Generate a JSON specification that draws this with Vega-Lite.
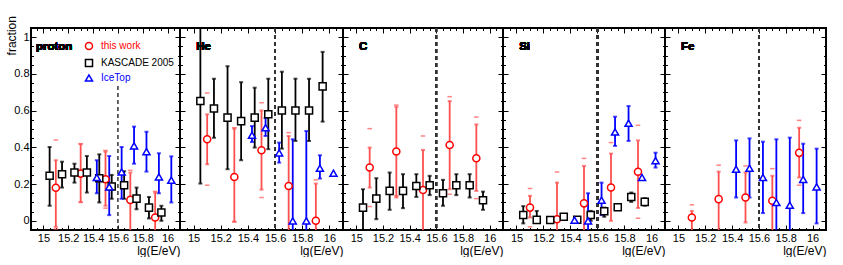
{
"$schema": "https://vega.github.io/schema/vega-lite/v6.json",
"padding": {"left": 5, "top": 15, "right": 0, "bottom": 0},
"bounds": "flush",
"config": {
 "font": "Liberation Sans",
 "view": {"stroke": "black", "strokeWidth": 2},
 "axis": {"domain": false, "grid": false, "tickColor": "black", "tickWidth": 1, "labelFont": "Liberation Sans", "labelFontSize": 11, "labelColor": "black", "titleFont": "Liberation Sans", "titleFontSize": 12, "titleFontWeight": "normal", "titleColor": "black", "labelOverlap": false, "labelFlush": false, "labelBound": false}
},
"data": {"values": [
{"el":"p","src":"this work","x":15.1,"y":0.18,"lo":-0.033,"hi":0.33,"slo":-0.045,"shi":0.44},
{"el":"p","src":"this work","x":15.3,"y":0.257,"lo":0.103,"hi":0.417,"slo":0.1,"shi":0.42},
{"el":"p","src":"this work","x":15.5,"y":0.226,"lo":0.082,"hi":0.377,"slo":0.069,"shi":0.383},
{"el":"p","src":"this work","x":15.7,"y":0.114,"lo":-0.1,"hi":0.263,"slo":-0.1,"shi":0.275},
{"el":"p","src":"this work","x":15.9,"y":0.018,"lo":-0.1,"hi":0.154,"slo":-0.1,"shi":0.16},
{"el":"p","src":"KASCADE 2005","x":15.05,"y":0.245,"lo":0.082,"hi":0.402},
{"el":"p","src":"KASCADE 2005","x":15.15,"y":0.254,"lo":0.181,"hi":0.322},
{"el":"p","src":"KASCADE 2005","x":15.25,"y":0.263,"lo":0.208,"hi":0.311},
{"el":"p","src":"KASCADE 2005","x":15.35,"y":0.263,"lo":0.154,"hi":0.353},
{"el":"p","src":"KASCADE 2005","x":15.45,"y":0.232,"lo":0.1,"hi":0.362},
{"el":"p","src":"KASCADE 2005","x":15.55,"y":0.187,"lo":0.12,"hi":0.25},
{"el":"p","src":"KASCADE 2005","x":15.65,"y":0.194,"lo":0.12,"hi":0.27},
{"el":"p","src":"KASCADE 2005","x":15.75,"y":0.121,"lo":0.063,"hi":0.181},
{"el":"p","src":"KASCADE 2005","x":15.85,"y":0.072,"lo":0.013,"hi":0.13},
{"el":"p","src":"KASCADE 2005","x":15.95,"y":0.045,"lo":0.0,"hi":0.082},
{"el":"p","src":"IceTop","x":15.43,"y":0.236,"lo":0.15,"hi":0.33},
{"el":"p","src":"IceTop","x":15.53,"y":0.185,"lo":0.031,"hi":0.353},
{"el":"p","src":"IceTop","x":15.63,"y":0.266,"lo":0.12,"hi":0.402},
{"el":"p","src":"IceTop","x":15.73,"y":0.408,"lo":0.311,"hi":0.513},
{"el":"p","src":"IceTop","x":15.83,"y":0.377,"lo":0.268,"hi":0.485},
{"el":"p","src":"IceTop","x":15.93,"y":0.239,"lo":0.15,"hi":0.368},
{"el":"p","src":"IceTop","x":16.03,"y":0.221,"lo":0.1,"hi":0.351},
{"el":"He","src":"this work","x":15.1,"y":0.444,"lo":0.308,"hi":0.58,"slo":0.194,"shi":0.696},
{"el":"He","src":"this work","x":15.3,"y":0.239,"lo":-0.005,"hi":0.502,"slo":-0.005,"shi":0.507},
{"el":"He","src":"this work","x":15.5,"y":0.384,"lo":0.17,"hi":0.601,"slo":0.127,"shi":0.643},
{"el":"He","src":"this work","x":15.7,"y":0.19,"lo":-0.1,"hi":0.462,"slo":-0.1,"shi":0.48},
{"el":"He","src":"this work","x":15.9,"y":0.0,"lo":-0.1,"hi":0.203,"slo":-0.1,"shi":0.223},
{"el":"He","src":"KASCADE 2005","x":15.05,"y":0.652,"lo":0.203,"hi":1.1},
{"el":"He","src":"KASCADE 2005","x":15.15,"y":0.612,"lo":0.453,"hi":0.774},
{"el":"He","src":"KASCADE 2005","x":15.25,"y":0.562,"lo":0.281,"hi":0.842},
{"el":"He","src":"KASCADE 2005","x":15.35,"y":0.543,"lo":0.33,"hi":0.755},
{"el":"He","src":"KASCADE 2005","x":15.45,"y":0.562,"lo":0.399,"hi":0.725},
{"el":"He","src":"KASCADE 2005","x":15.55,"y":0.58,"lo":0.39,"hi":0.774},
{"el":"He","src":"KASCADE 2005","x":15.65,"y":0.601,"lo":0.393,"hi":0.812},
{"el":"He","src":"KASCADE 2005","x":15.75,"y":0.601,"lo":0.435,"hi":0.774},
{"el":"He","src":"KASCADE 2005","x":15.85,"y":0.601,"lo":0.435,"hi":0.774},
{"el":"He","src":"KASCADE 2005","x":15.95,"y":0.732,"lo":0.54,"hi":0.92},
{"el":"He","src":"IceTop","x":15.43,"y":0.466,"lo":0.429,"hi":0.516},
{"el":"He","src":"IceTop","x":15.53,"y":0.507,"lo":0.462,"hi":0.56},
{"el":"He","src":"IceTop","x":15.63,"y":0.37,"lo":0.317,"hi":0.426},
{"el":"He","src":"IceTop","x":15.73,"y":0.0,"lo":-0.1,"hi":0.444},
{"el":"He","src":"IceTop","x":15.83,"y":0.0,"lo":-0.1,"hi":0.489},
{"el":"He","src":"IceTop","x":15.93,"y":0.286,"lo":0.23,"hi":0.357},
{"el":"He","src":"IceTop","x":16.03,"y":0.259},
{"el":"C","src":"this work","x":15.1,"y":0.29,"lo":0.181,"hi":0.399,"slo":0.078,"shi":0.502},
{"el":"C","src":"this work","x":15.3,"y":0.377,"lo":0.127,"hi":0.621,"slo":0.136,"shi":0.63},
{"el":"C","src":"this work","x":15.5,"y":0.168,"lo":-0.1,"hi":0.386,"slo":-0.1,"shi":0.462},
{"el":"C","src":"this work","x":15.7,"y":0.413,"lo":0.172,"hi":0.652,"slo":0.145,"shi":0.676},
{"el":"C","src":"this work","x":15.9,"y":0.341,"lo":0.163,"hi":0.525,"slo":0.121,"shi":0.565},
{"el":"C","src":"KASCADE 2005","x":15.05,"y":0.072,"lo":-0.1,"hi":0.172},
{"el":"C","src":"KASCADE 2005","x":15.15,"y":0.121,"lo":0.009,"hi":0.232},
{"el":"C","src":"KASCADE 2005","x":15.25,"y":0.163,"lo":0.06,"hi":0.263},
{"el":"C","src":"KASCADE 2005","x":15.35,"y":0.163,"lo":0.069,"hi":0.254},
{"el":"C","src":"KASCADE 2005","x":15.45,"y":0.19,"lo":0.13,"hi":0.254},
{"el":"C","src":"KASCADE 2005","x":15.55,"y":0.194,"lo":0.14,"hi":0.245},
{"el":"C","src":"KASCADE 2005","x":15.65,"y":0.15,"lo":0.082,"hi":0.223},
{"el":"C","src":"KASCADE 2005","x":15.75,"y":0.194,"lo":0.14,"hi":0.254},
{"el":"C","src":"KASCADE 2005","x":15.85,"y":0.194,"lo":0.127,"hi":0.254},
{"el":"C","src":"KASCADE 2005","x":15.95,"y":0.112,"lo":0.06,"hi":0.159},
{"el":"Si","src":"this work","x":15.1,"y":0.072,"lo":0.018,"hi":0.136,"slo":-0.033,"shi":0.176},
{"el":"Si","src":"this work","x":15.3,"y":0.009,"lo":-0.1,"hi":0.208,"slo":-0.1,"shi":0.266},
{"el":"Si","src":"this work","x":15.5,"y":0.095,"lo":-0.1,"hi":0.299,"slo":-0.1,"shi":0.34},
{"el":"Si","src":"this work","x":15.7,"y":0.181,"lo":0.0,"hi":0.366,"slo":-0.1,"shi":0.426},
{"el":"Si","src":"this work","x":15.9,"y":0.267,"lo":0.07,"hi":0.438,"slo":0.014,"shi":0.52},
{"el":"Si","src":"KASCADE 2005","x":15.05,"y":0.032,"lo":-0.014,"hi":0.08},
{"el":"Si","src":"KASCADE 2005","x":15.15,"y":0.005,"lo":-0.01,"hi":0.054},
{"el":"Si","src":"KASCADE 2005","x":15.25,"y":0.004},
{"el":"Si","src":"KASCADE 2005","x":15.35,"y":0.022},
{"el":"Si","src":"KASCADE 2005","x":15.45,"y":0.006},
{"el":"Si","src":"KASCADE 2005","x":15.55,"y":0.032,"lo":0.0,"hi":0.054},
{"el":"Si","src":"KASCADE 2005","x":15.65,"y":0.052,"lo":0.022,"hi":0.072},
{"el":"Si","src":"KASCADE 2005","x":15.75,"y":0.074},
{"el":"Si","src":"KASCADE 2005","x":15.85,"y":0.13,"lo":0.103,"hi":0.154},
{"el":"Si","src":"KASCADE 2005","x":15.95,"y":0.103,"lo":0.082,"hi":0.123},
{"el":"Si","src":"IceTop","x":15.43,"y":0.004},
{"el":"Si","src":"IceTop","x":15.53,"y":0.0,"lo":-0.1,"hi":0.15},
{"el":"Si","src":"IceTop","x":15.63,"y":0.112,"lo":0.031,"hi":0.208},
{"el":"Si","src":"IceTop","x":15.73,"y":0.484,"lo":0.408,"hi":0.567},
{"el":"Si","src":"IceTop","x":15.83,"y":0.531,"lo":0.435,"hi":0.625},
{"el":"Si","src":"IceTop","x":15.93,"y":0.236},
{"el":"Si","src":"IceTop","x":16.03,"y":0.328,"lo":0.29,"hi":0.371},
{"el":"Fe","src":"this work","x":15.1,"y":0.018,"lo":-0.1,"hi":0.054,"shi":0.087},
{"el":"Fe","src":"this work","x":15.3,"y":0.118,"lo":-0.1,"hi":0.268,"slo":-0.1,"shi":0.303},
{"el":"Fe","src":"this work","x":15.5,"y":0.127,"lo":-0.009,"hi":0.263,"slo":-0.1,"shi":0.299},
{"el":"Fe","src":"this work","x":15.7,"y":0.109,"lo":-0.1,"hi":0.245,"slo":-0.1,"shi":0.284},
{"el":"Fe","src":"this work","x":15.9,"y":0.37,"lo":0.236,"hi":0.507,"slo":0.194,"shi":0.547},
{"el":"Fe","src":"IceTop","x":15.43,"y":0.281,"lo":0.127,"hi":0.438},
{"el":"Fe","src":"IceTop","x":15.53,"y":0.286,"lo":0.127,"hi":0.449},
{"el":"Fe","src":"IceTop","x":15.63,"y":0.236,"lo":0.042,"hi":0.431},
{"el":"Fe","src":"IceTop","x":15.73,"y":0.1,"lo":-0.1,"hi":0.444},
{"el":"Fe","src":"IceTop","x":15.83,"y":0.085,"lo":-0.1,"hi":0.453},
{"el":"Fe","src":"IceTop","x":15.93,"y":0.226,"lo":0.042,"hi":0.42},
{"el":"Fe","src":"IceTop","x":16.03,"y":0.185,"lo":-0.014,"hi":0.393}
]},
"spacing": 0,
"hconcat": [
{
 "width": 149, "height": 202,
 "transform": [{"filter": "datum.el === 'p'"}],
 "resolve": {"axis": {"x": "independent", "y": "independent"}},
 "layer": [
  {"mark": {"type": "rule", "clip": true, "strokeWidth": 1.8},
   "encoding": {
    "x": {"field": "x", "type": "quantitative", "scale": {"domain": [14.9, 16.1], "nice": false, "zero": false},
      "axis": {"orient": "bottom", "title": "lg(E/eV)", "titleAnchor": "end", "titlePadding": 2, "format": "~g",
        "values": [14.9,14.95,15,15.05,15.1,15.15,15.2,15.25,15.3,15.35,15.4,15.45,15.5,15.55,15.6,15.65,15.7,15.75,15.8,15.85,15.9,15.95,16,16.05,16.1],
        "tickSize": {"condition": {"test": "abs(datum.value*5-round(datum.value*5))<0.001", "value": -5}, "value": -2.5},
        "labelPadding": {"condition": {"test": "abs(datum.value*5-round(datum.value*5))<0.001", "value": 7}, "value": 4.5},
        "labelExpr": "abs(datum.value*5-round(datum.value*5))<0.001 ? datum.label : ''"}},
    "y": {"field": "lo", "type": "quantitative", "scale": {"domain": [-0.05, 1.05], "nice": false, "zero": false},
      "axis": {"orient": "left", "title": null, "format": "~g",
        "values": [-0.05,0,0.05,0.1,0.15,0.2,0.25,0.3,0.35,0.4,0.45,0.5,0.55,0.6,0.65,0.7,0.75,0.8,0.85,0.9,0.95,1,1.05],
        "tickSize": {"condition": {"test": "abs(datum.value*5-round(datum.value*5))<0.001", "value": -5}, "value": -2.5},
        "labelPadding": {"condition": {"test": "abs(datum.value*5-round(datum.value*5))<0.001", "value": 7}, "value": 4.5},
        "labelExpr": "abs(datum.value*5-round(datum.value*5))<0.001 ? datum.label : ''"}},
    "y2": {"field": "hi"},
    "color": {"field": "src", "type": "nominal", "scale": {"domain": ["this work", "KASCADE 2005", "IceTop"], "range": ["#ff5050", "#000000", "#0000ff"]}, "legend": null}}},
  {"mark": {"type": "tick", "orient": "horizontal", "clip": true, "size": 4, "thickness": 2},
   "encoding": {"x": {"field": "x", "type": "quantitative", "axis": null}, "y": {"field": "lo", "type": "quantitative", "axis": null},
    "color": {"field": "src", "type": "nominal", "legend": null}}},
  {"mark": {"type": "tick", "orient": "horizontal", "clip": true, "size": 4, "thickness": 2},
   "encoding": {"x": {"field": "x", "type": "quantitative", "axis": null}, "y": {"field": "hi", "type": "quantitative", "axis": null},
    "color": {"field": "src", "type": "nominal", "legend": null}}},
  {"mark": {"type": "tick", "orient": "horizontal", "clip": true, "size": 4.5, "thickness": 1.5},
   "encoding": {"x": {"field": "x", "type": "quantitative", "axis": null}, "y": {"field": "slo", "type": "quantitative", "axis": null},
    "color": {"field": "src", "type": "nominal", "legend": null}}},
  {"mark": {"type": "tick", "orient": "horizontal", "clip": true, "size": 4.5, "thickness": 1.5},
   "encoding": {"x": {"field": "x", "type": "quantitative", "axis": null}, "y": {"field": "shi", "type": "quantitative", "axis": null},
    "color": {"field": "src", "type": "nominal", "legend": null}}},
  {"data": {"values": [{"el": "p"}]},
   "mark": {"type": "rule", "strokeDash": [4, 3], "strokeWidth": 1.5, "color": "#333333"},
   "encoding": {"x": {"datum": 15.6, "type": "quantitative", "axis": null}, "y": {"datum": -0.05, "type": "quantitative", "axis": null}, "y2": {"datum": 0.735}}},
  {"mark": {"type": "point", "filled": true, "fill": "white", "opacity": 1, "strokeWidth": 1.5, "size": 50, "clip": true},
   "encoding": {
    "x": {"field": "x", "type": "quantitative",
      "axis": {"orient": "top", "title": null, "labels": false,
        "values": [14.9,14.95,15,15.05,15.1,15.15,15.2,15.25,15.3,15.35,15.4,15.45,15.5,15.55,15.6,15.65,15.7,15.75,15.8,15.85,15.9,15.95,16,16.05,16.1],
        "tickSize": {"condition": {"test": "abs(datum.value*5-round(datum.value*5))<0.001", "value": -5}, "value": -2.5}}},
    "y": {"field": "y", "type": "quantitative",
      "axis": {"orient": "right", "title": null, "labels": false,
        "values": [-0.05,0,0.05,0.1,0.15,0.2,0.25,0.3,0.35,0.4,0.45,0.5,0.55,0.6,0.65,0.7,0.75,0.8,0.85,0.9,0.95,1,1.05],
        "tickSize": {"condition": {"test": "abs(datum.value*5-round(datum.value*5))<0.001", "value": -5}, "value": -2.5}}},
    "stroke": {"field": "src", "type": "nominal", "scale": {"domain": ["this work", "KASCADE 2005", "IceTop"], "range": ["#ff0000", "#000000", "#0000ff"]}, "legend": null},
    "shape": {"field": "src", "type": "nominal", "scale": {"domain": ["this work", "KASCADE 2005", "IceTop"], "range": ["circle", "square", "triangle-up"]}, "legend": null}}},
  {"mark": {"type": "text", "align": "left", "baseline": "middle", "fontWeight": "bold", "fontSize": 11.5},
   "encoding": {"x": {"datum": 14.94, "type": "quantitative", "axis": null}, "y": {"datum": 0.946, "type": "quantitative", "axis": null}, "text": {"value": "proton"}}},
  {"data": {"values": [{"el": "p"}]},
   "mark": {"type": "text", "angle": 270, "align": "right", "baseline": "middle", "fontSize": 12, "color": "black"},
   "encoding": {"x": {"datum": 14.747, "type": "quantitative", "axis": null}, "y": {"datum": 1.115, "type": "quantitative", "axis": null}, "text": {"value": "fraction"}}},
  {"data": {"values": [{"el": "p"}]},
   "mark": {"type": "point", "shape": "circle", "filled": true, "fill": "white", "stroke": "#ff0000", "opacity": 1, "strokeWidth": 1.5, "size": 50},
   "encoding": {"x": {"datum": 15.367, "type": "quantitative", "axis": null}, "y": {"datum": 0.952, "type": "quantitative", "axis": null}}},
  {"data": {"values": [{"el": "p"}]},
   "mark": {"type": "point", "shape": "square", "filled": true, "fill": "white", "stroke": "#000000", "opacity": 1, "strokeWidth": 1.5, "size": 50},
   "encoding": {"x": {"datum": 15.367, "type": "quantitative", "axis": null}, "y": {"datum": 0.859, "type": "quantitative", "axis": null}}},
  {"data": {"values": [{"el": "p"}]},
   "mark": {"type": "point", "shape": "triangle-up", "filled": true, "fill": "white", "stroke": "#0000ff", "opacity": 1, "strokeWidth": 1.5, "size": 50},
   "encoding": {"x": {"datum": 15.367, "type": "quantitative", "axis": null}, "y": {"datum": 0.778, "type": "quantitative", "axis": null}}},
  {"data": {"values": [{"el": "p"}]},
   "mark": {"type": "text", "align": "left", "baseline": "middle", "fontSize": 10, "color": "#ff0000"},
   "encoding": {"x": {"datum": 15.464, "type": "quantitative", "axis": null}, "y": {"datum": 0.952, "type": "quantitative", "axis": null}, "text": {"value": "this work"}}},
  {"data": {"values": [{"el": "p"}]},
   "mark": {"type": "text", "align": "left", "baseline": "middle", "fontSize": 10, "color": "#000000"},
   "encoding": {"x": {"datum": 15.464, "type": "quantitative", "axis": null}, "y": {"datum": 0.859, "type": "quantitative", "axis": null}, "text": {"value": "KASCADE 2005"}}},
  {"data": {"values": [{"el": "p"}]},
   "mark": {"type": "text", "align": "left", "baseline": "middle", "fontSize": 10, "color": "#0000ff"},
   "encoding": {"x": {"datum": 15.464, "type": "quantitative", "axis": null}, "y": {"datum": 0.778, "type": "quantitative", "axis": null}, "text": {"value": "IceTop"}}}
 ]
},
{
 "width": 163, "height": 202,
 "transform": [{"filter": "datum.el === 'He'"}],
 "resolve": {"axis": {"x": "independent", "y": "independent"}},
 "layer": [
  {"mark": {"type": "rule", "clip": true, "strokeWidth": 1.8},
   "encoding": {
    "x": {"field": "x", "type": "quantitative", "scale": {"domain": [14.9, 16.1], "nice": false, "zero": false},
      "axis": {"orient": "bottom", "title": "lg(E/eV)", "titleAnchor": "end", "titlePadding": 2, "format": "~g",
        "values": [14.9,14.95,15,15.05,15.1,15.15,15.2,15.25,15.3,15.35,15.4,15.45,15.5,15.55,15.6,15.65,15.7,15.75,15.8,15.85,15.9,15.95,16,16.05,16.1],
        "tickSize": {"condition": {"test": "abs(datum.value*5-round(datum.value*5))<0.001", "value": -5}, "value": -2.5},
        "labelPadding": {"condition": {"test": "abs(datum.value*5-round(datum.value*5))<0.001", "value": 7}, "value": 4.5},
        "labelExpr": "abs(datum.value*5-round(datum.value*5))<0.001 ? datum.label : ''"}},
    "y": {"field": "lo", "type": "quantitative", "scale": {"domain": [-0.05, 1.05], "nice": false, "zero": false},
      "axis": {"orient": "left", "title": null, "labels": false,
        "values": [-0.05,0,0.05,0.1,0.15,0.2,0.25,0.3,0.35,0.4,0.45,0.5,0.55,0.6,0.65,0.7,0.75,0.8,0.85,0.9,0.95,1,1.05],
        "tickSize": {"condition": {"test": "abs(datum.value*5-round(datum.value*5))<0.001", "value": -5}, "value": -2.5}}},
    "y2": {"field": "hi"},
    "color": {"field": "src", "type": "nominal", "scale": {"domain": ["this work", "KASCADE 2005", "IceTop"], "range": ["#ff5050", "#000000", "#0000ff"]}, "legend": null}}},
  {"mark": {"type": "tick", "orient": "horizontal", "clip": true, "size": 4, "thickness": 2},
   "encoding": {"x": {"field": "x", "type": "quantitative", "axis": null}, "y": {"field": "lo", "type": "quantitative", "axis": null},
    "color": {"field": "src", "type": "nominal", "legend": null}}},
  {"mark": {"type": "tick", "orient": "horizontal", "clip": true, "size": 4, "thickness": 2},
   "encoding": {"x": {"field": "x", "type": "quantitative", "axis": null}, "y": {"field": "hi", "type": "quantitative", "axis": null},
    "color": {"field": "src", "type": "nominal", "legend": null}}},
  {"mark": {"type": "tick", "orient": "horizontal", "clip": true, "size": 4.5, "thickness": 1.5},
   "encoding": {"x": {"field": "x", "type": "quantitative", "axis": null}, "y": {"field": "slo", "type": "quantitative", "axis": null},
    "color": {"field": "src", "type": "nominal", "legend": null}}},
  {"mark": {"type": "tick", "orient": "horizontal", "clip": true, "size": 4.5, "thickness": 1.5},
   "encoding": {"x": {"field": "x", "type": "quantitative", "axis": null}, "y": {"field": "shi", "type": "quantitative", "axis": null},
    "color": {"field": "src", "type": "nominal", "legend": null}}},
  {"mark": {"type": "rule", "strokeDash": [4, 3], "strokeWidth": 1.5, "color": "#333333"},
   "encoding": {"x": {"datum": 15.6, "type": "quantitative", "axis": null}}},
  {"mark": {"type": "point", "filled": true, "fill": "white", "opacity": 1, "strokeWidth": 1.5, "size": 50, "clip": true},
   "encoding": {
    "x": {"field": "x", "type": "quantitative",
      "axis": {"orient": "top", "title": null, "labels": false,
        "values": [14.9,14.95,15,15.05,15.1,15.15,15.2,15.25,15.3,15.35,15.4,15.45,15.5,15.55,15.6,15.65,15.7,15.75,15.8,15.85,15.9,15.95,16,16.05,16.1],
        "tickSize": {"condition": {"test": "abs(datum.value*5-round(datum.value*5))<0.001", "value": -5}, "value": -2.5}}},
    "y": {"field": "y", "type": "quantitative",
      "axis": {"orient": "right", "title": null, "labels": false,
        "values": [-0.05,0,0.05,0.1,0.15,0.2,0.25,0.3,0.35,0.4,0.45,0.5,0.55,0.6,0.65,0.7,0.75,0.8,0.85,0.9,0.95,1,1.05],
        "tickSize": {"condition": {"test": "abs(datum.value*5-round(datum.value*5))<0.001", "value": -5}, "value": -2.5}}},
    "stroke": {"field": "src", "type": "nominal", "scale": {"domain": ["this work", "KASCADE 2005", "IceTop"], "range": ["#ff0000", "#000000", "#0000ff"]}, "legend": null},
    "shape": {"field": "src", "type": "nominal", "scale": {"domain": ["this work", "KASCADE 2005", "IceTop"], "range": ["circle", "square", "triangle-up"]}, "legend": null}}},
  {"mark": {"type": "text", "align": "left", "baseline": "middle", "fontWeight": "bold", "fontSize": 11.5},
   "encoding": {"x": {"datum": 15.02, "type": "quantitative", "axis": null}, "y": {"datum": 0.946, "type": "quantitative", "axis": null}, "text": {"value": "He"}}}
 ]
},
{
 "width": 160, "height": 202,
 "transform": [{"filter": "datum.el === 'C'"}],
 "resolve": {"axis": {"x": "independent", "y": "independent"}},
 "layer": [
  {"mark": {"type": "rule", "clip": true, "strokeWidth": 1.8},
   "encoding": {
    "x": {"field": "x", "type": "quantitative", "scale": {"domain": [14.9, 16.1], "nice": false, "zero": false},
      "axis": {"orient": "bottom", "title": "lg(E/eV)", "titleAnchor": "end", "titlePadding": 2, "format": "~g",
        "values": [14.9,14.95,15,15.05,15.1,15.15,15.2,15.25,15.3,15.35,15.4,15.45,15.5,15.55,15.6,15.65,15.7,15.75,15.8,15.85,15.9,15.95,16,16.05,16.1],
        "tickSize": {"condition": {"test": "abs(datum.value*5-round(datum.value*5))<0.001", "value": -5}, "value": -2.5},
        "labelPadding": {"condition": {"test": "abs(datum.value*5-round(datum.value*5))<0.001", "value": 7}, "value": 4.5},
        "labelExpr": "abs(datum.value*5-round(datum.value*5))<0.001 ? datum.label : ''"}},
    "y": {"field": "lo", "type": "quantitative", "scale": {"domain": [-0.05, 1.05], "nice": false, "zero": false},
      "axis": {"orient": "left", "title": null, "labels": false,
        "values": [-0.05,0,0.05,0.1,0.15,0.2,0.25,0.3,0.35,0.4,0.45,0.5,0.55,0.6,0.65,0.7,0.75,0.8,0.85,0.9,0.95,1,1.05],
        "tickSize": {"condition": {"test": "abs(datum.value*5-round(datum.value*5))<0.001", "value": -5}, "value": -2.5}}},
    "y2": {"field": "hi"},
    "color": {"field": "src", "type": "nominal", "scale": {"domain": ["this work", "KASCADE 2005", "IceTop"], "range": ["#ff5050", "#000000", "#0000ff"]}, "legend": null}}},
  {"mark": {"type": "tick", "orient": "horizontal", "clip": true, "size": 4, "thickness": 2},
   "encoding": {"x": {"field": "x", "type": "quantitative", "axis": null}, "y": {"field": "lo", "type": "quantitative", "axis": null},
    "color": {"field": "src", "type": "nominal", "legend": null}}},
  {"mark": {"type": "tick", "orient": "horizontal", "clip": true, "size": 4, "thickness": 2},
   "encoding": {"x": {"field": "x", "type": "quantitative", "axis": null}, "y": {"field": "hi", "type": "quantitative", "axis": null},
    "color": {"field": "src", "type": "nominal", "legend": null}}},
  {"mark": {"type": "tick", "orient": "horizontal", "clip": true, "size": 4.5, "thickness": 1.5},
   "encoding": {"x": {"field": "x", "type": "quantitative", "axis": null}, "y": {"field": "slo", "type": "quantitative", "axis": null},
    "color": {"field": "src", "type": "nominal", "legend": null}}},
  {"mark": {"type": "tick", "orient": "horizontal", "clip": true, "size": 4.5, "thickness": 1.5},
   "encoding": {"x": {"field": "x", "type": "quantitative", "axis": null}, "y": {"field": "shi", "type": "quantitative", "axis": null},
    "color": {"field": "src", "type": "nominal", "legend": null}}},
  {"mark": {"type": "rule", "strokeDash": [4, 3], "strokeWidth": 1.5, "color": "#333333"},
   "encoding": {"x": {"datum": 15.6, "type": "quantitative", "axis": null}}},
  {"mark": {"type": "point", "filled": true, "fill": "white", "opacity": 1, "strokeWidth": 1.5, "size": 50, "clip": true},
   "encoding": {
    "x": {"field": "x", "type": "quantitative",
      "axis": {"orient": "top", "title": null, "labels": false,
        "values": [14.9,14.95,15,15.05,15.1,15.15,15.2,15.25,15.3,15.35,15.4,15.45,15.5,15.55,15.6,15.65,15.7,15.75,15.8,15.85,15.9,15.95,16,16.05,16.1],
        "tickSize": {"condition": {"test": "abs(datum.value*5-round(datum.value*5))<0.001", "value": -5}, "value": -2.5}}},
    "y": {"field": "y", "type": "quantitative",
      "axis": {"orient": "right", "title": null, "labels": false,
        "values": [-0.05,0,0.05,0.1,0.15,0.2,0.25,0.3,0.35,0.4,0.45,0.5,0.55,0.6,0.65,0.7,0.75,0.8,0.85,0.9,0.95,1,1.05],
        "tickSize": {"condition": {"test": "abs(datum.value*5-round(datum.value*5))<0.001", "value": -5}, "value": -2.5}}},
    "stroke": {"field": "src", "type": "nominal", "scale": {"domain": ["this work", "KASCADE 2005", "IceTop"], "range": ["#ff0000", "#000000", "#0000ff"]}, "legend": null},
    "shape": {"field": "src", "type": "nominal", "scale": {"domain": ["this work", "KASCADE 2005", "IceTop"], "range": ["circle", "square", "triangle-up"]}, "legend": null}}},
  {"mark": {"type": "text", "align": "left", "baseline": "middle", "fontWeight": "bold", "fontSize": 11.5},
   "encoding": {"x": {"datum": 15.02, "type": "quantitative", "axis": null}, "y": {"datum": 0.946, "type": "quantitative", "axis": null}, "text": {"value": "C"}}}
 ]
},
{
 "width": 162, "height": 202,
 "transform": [{"filter": "datum.el === 'Si'"}],
 "resolve": {"axis": {"x": "independent", "y": "independent"}},
 "layer": [
  {"mark": {"type": "rule", "clip": true, "strokeWidth": 1.8},
   "encoding": {
    "x": {"field": "x", "type": "quantitative", "scale": {"domain": [14.9, 16.1], "nice": false, "zero": false},
      "axis": {"orient": "bottom", "title": "lg(E/eV)", "titleAnchor": "end", "titlePadding": 2, "format": "~g",
        "values": [14.9,14.95,15,15.05,15.1,15.15,15.2,15.25,15.3,15.35,15.4,15.45,15.5,15.55,15.6,15.65,15.7,15.75,15.8,15.85,15.9,15.95,16,16.05,16.1],
        "tickSize": {"condition": {"test": "abs(datum.value*5-round(datum.value*5))<0.001", "value": -5}, "value": -2.5},
        "labelPadding": {"condition": {"test": "abs(datum.value*5-round(datum.value*5))<0.001", "value": 7}, "value": 4.5},
        "labelExpr": "abs(datum.value*5-round(datum.value*5))<0.001 ? datum.label : ''"}},
    "y": {"field": "lo", "type": "quantitative", "scale": {"domain": [-0.05, 1.05], "nice": false, "zero": false},
      "axis": {"orient": "left", "title": null, "labels": false,
        "values": [-0.05,0,0.05,0.1,0.15,0.2,0.25,0.3,0.35,0.4,0.45,0.5,0.55,0.6,0.65,0.7,0.75,0.8,0.85,0.9,0.95,1,1.05],
        "tickSize": {"condition": {"test": "abs(datum.value*5-round(datum.value*5))<0.001", "value": -5}, "value": -2.5}}},
    "y2": {"field": "hi"},
    "color": {"field": "src", "type": "nominal", "scale": {"domain": ["this work", "KASCADE 2005", "IceTop"], "range": ["#ff5050", "#000000", "#0000ff"]}, "legend": null}}},
  {"mark": {"type": "tick", "orient": "horizontal", "clip": true, "size": 4, "thickness": 2},
   "encoding": {"x": {"field": "x", "type": "quantitative", "axis": null}, "y": {"field": "lo", "type": "quantitative", "axis": null},
    "color": {"field": "src", "type": "nominal", "legend": null}}},
  {"mark": {"type": "tick", "orient": "horizontal", "clip": true, "size": 4, "thickness": 2},
   "encoding": {"x": {"field": "x", "type": "quantitative", "axis": null}, "y": {"field": "hi", "type": "quantitative", "axis": null},
    "color": {"field": "src", "type": "nominal", "legend": null}}},
  {"mark": {"type": "tick", "orient": "horizontal", "clip": true, "size": 4.5, "thickness": 1.5},
   "encoding": {"x": {"field": "x", "type": "quantitative", "axis": null}, "y": {"field": "slo", "type": "quantitative", "axis": null},
    "color": {"field": "src", "type": "nominal", "legend": null}}},
  {"mark": {"type": "tick", "orient": "horizontal", "clip": true, "size": 4.5, "thickness": 1.5},
   "encoding": {"x": {"field": "x", "type": "quantitative", "axis": null}, "y": {"field": "shi", "type": "quantitative", "axis": null},
    "color": {"field": "src", "type": "nominal", "legend": null}}},
  {"mark": {"type": "rule", "strokeDash": [4, 3], "strokeWidth": 1.5, "color": "#333333"},
   "encoding": {"x": {"datum": 15.6, "type": "quantitative", "axis": null}}},
  {"mark": {"type": "point", "filled": true, "fill": "white", "opacity": 1, "strokeWidth": 1.5, "size": 50, "clip": true},
   "encoding": {
    "x": {"field": "x", "type": "quantitative",
      "axis": {"orient": "top", "title": null, "labels": false,
        "values": [14.9,14.95,15,15.05,15.1,15.15,15.2,15.25,15.3,15.35,15.4,15.45,15.5,15.55,15.6,15.65,15.7,15.75,15.8,15.85,15.9,15.95,16,16.05,16.1],
        "tickSize": {"condition": {"test": "abs(datum.value*5-round(datum.value*5))<0.001", "value": -5}, "value": -2.5}}},
    "y": {"field": "y", "type": "quantitative",
      "axis": {"orient": "right", "title": null, "labels": false,
        "values": [-0.05,0,0.05,0.1,0.15,0.2,0.25,0.3,0.35,0.4,0.45,0.5,0.55,0.6,0.65,0.7,0.75,0.8,0.85,0.9,0.95,1,1.05],
        "tickSize": {"condition": {"test": "abs(datum.value*5-round(datum.value*5))<0.001", "value": -5}, "value": -2.5}}},
    "stroke": {"field": "src", "type": "nominal", "scale": {"domain": ["this work", "KASCADE 2005", "IceTop"], "range": ["#ff0000", "#000000", "#0000ff"]}, "legend": null},
    "shape": {"field": "src", "type": "nominal", "scale": {"domain": ["this work", "KASCADE 2005", "IceTop"], "range": ["circle", "square", "triangle-up"]}, "legend": null}}},
  {"mark": {"type": "text", "align": "left", "baseline": "middle", "fontWeight": "bold", "fontSize": 11.5},
   "encoding": {"x": {"datum": 15.02, "type": "quantitative", "axis": null}, "y": {"datum": 0.946, "type": "quantitative", "axis": null}, "text": {"value": "Si"}}}
 ]
},
{
 "width": 161, "height": 202,
 "transform": [{"filter": "datum.el === 'Fe'"}],
 "resolve": {"axis": {"x": "independent", "y": "independent"}},
 "layer": [
  {"mark": {"type": "rule", "clip": true, "strokeWidth": 1.8},
   "encoding": {
    "x": {"field": "x", "type": "quantitative", "scale": {"domain": [14.9, 16.1], "nice": false, "zero": false},
      "axis": {"orient": "bottom", "title": "lg(E/eV)", "titleAnchor": "end", "titlePadding": 2, "format": "~g",
        "values": [14.9,14.95,15,15.05,15.1,15.15,15.2,15.25,15.3,15.35,15.4,15.45,15.5,15.55,15.6,15.65,15.7,15.75,15.8,15.85,15.9,15.95,16,16.05,16.1],
        "tickSize": {"condition": {"test": "abs(datum.value*5-round(datum.value*5))<0.001", "value": -5}, "value": -2.5},
        "labelPadding": {"condition": {"test": "abs(datum.value*5-round(datum.value*5))<0.001", "value": 7}, "value": 4.5},
        "labelExpr": "abs(datum.value*5-round(datum.value*5))<0.001 ? datum.label : ''"}},
    "y": {"field": "lo", "type": "quantitative", "scale": {"domain": [-0.05, 1.05], "nice": false, "zero": false},
      "axis": {"orient": "left", "title": null, "labels": false,
        "values": [-0.05,0,0.05,0.1,0.15,0.2,0.25,0.3,0.35,0.4,0.45,0.5,0.55,0.6,0.65,0.7,0.75,0.8,0.85,0.9,0.95,1,1.05],
        "tickSize": {"condition": {"test": "abs(datum.value*5-round(datum.value*5))<0.001", "value": -5}, "value": -2.5}}},
    "y2": {"field": "hi"},
    "color": {"field": "src", "type": "nominal", "scale": {"domain": ["this work", "KASCADE 2005", "IceTop"], "range": ["#ff5050", "#000000", "#0000ff"]}, "legend": null}}},
  {"mark": {"type": "tick", "orient": "horizontal", "clip": true, "size": 4, "thickness": 2},
   "encoding": {"x": {"field": "x", "type": "quantitative", "axis": null}, "y": {"field": "lo", "type": "quantitative", "axis": null},
    "color": {"field": "src", "type": "nominal", "legend": null}}},
  {"mark": {"type": "tick", "orient": "horizontal", "clip": true, "size": 4, "thickness": 2},
   "encoding": {"x": {"field": "x", "type": "quantitative", "axis": null}, "y": {"field": "hi", "type": "quantitative", "axis": null},
    "color": {"field": "src", "type": "nominal", "legend": null}}},
  {"mark": {"type": "tick", "orient": "horizontal", "clip": true, "size": 4.5, "thickness": 1.5},
   "encoding": {"x": {"field": "x", "type": "quantitative", "axis": null}, "y": {"field": "slo", "type": "quantitative", "axis": null},
    "color": {"field": "src", "type": "nominal", "legend": null}}},
  {"mark": {"type": "tick", "orient": "horizontal", "clip": true, "size": 4.5, "thickness": 1.5},
   "encoding": {"x": {"field": "x", "type": "quantitative", "axis": null}, "y": {"field": "shi", "type": "quantitative", "axis": null},
    "color": {"field": "src", "type": "nominal", "legend": null}}},
  {"mark": {"type": "rule", "strokeDash": [4, 3], "strokeWidth": 1.5, "color": "#333333"},
   "encoding": {"x": {"datum": 15.6, "type": "quantitative", "axis": null}}},
  {"mark": {"type": "point", "filled": true, "fill": "white", "opacity": 1, "strokeWidth": 1.5, "size": 50, "clip": true},
   "encoding": {
    "x": {"field": "x", "type": "quantitative",
      "axis": {"orient": "top", "title": null, "labels": false,
        "values": [14.9,14.95,15,15.05,15.1,15.15,15.2,15.25,15.3,15.35,15.4,15.45,15.5,15.55,15.6,15.65,15.7,15.75,15.8,15.85,15.9,15.95,16,16.05,16.1],
        "tickSize": {"condition": {"test": "abs(datum.value*5-round(datum.value*5))<0.001", "value": -5}, "value": -2.5}}},
    "y": {"field": "y", "type": "quantitative",
      "axis": {"orient": "right", "title": null, "labels": false,
        "values": [-0.05,0,0.05,0.1,0.15,0.2,0.25,0.3,0.35,0.4,0.45,0.5,0.55,0.6,0.65,0.7,0.75,0.8,0.85,0.9,0.95,1,1.05],
        "tickSize": {"condition": {"test": "abs(datum.value*5-round(datum.value*5))<0.001", "value": -5}, "value": -2.5}}},
    "stroke": {"field": "src", "type": "nominal", "scale": {"domain": ["this work", "KASCADE 2005", "IceTop"], "range": ["#ff0000", "#000000", "#0000ff"]}, "legend": null},
    "shape": {"field": "src", "type": "nominal", "scale": {"domain": ["this work", "KASCADE 2005", "IceTop"], "range": ["circle", "square", "triangle-up"]}, "legend": null}}},
  {"mark": {"type": "text", "align": "left", "baseline": "middle", "fontWeight": "bold", "fontSize": 11.5},
   "encoding": {"x": {"datum": 15.02, "type": "quantitative", "axis": null}, "y": {"datum": 0.946, "type": "quantitative", "axis": null}, "text": {"value": "Fe"}}}
 ]
}
]
}
